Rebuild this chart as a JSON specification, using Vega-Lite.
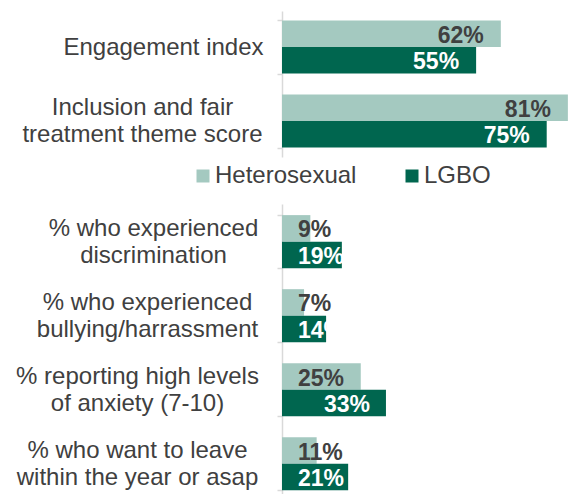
{
  "$schema": "https://vega.github.io/schema/vega-lite/v6.json",
  "padding": {"left": 15, "top": -1, "right": 0, "bottom": 0},
  "spacing": 35,
  "config": {"view": {"stroke": null}, "font": "Liberation Sans"},
  "datasets": {
    "d": [
      {"panel": 1, "measure": "Engagement index", "group": "Heterosexual", "value": 0.62},
      {"panel": 1, "measure": "Engagement index", "group": "LGBO", "value": 0.55},
      {"panel": 1, "measure": "Inclusion and fair|treatment theme score", "group": "Heterosexual", "value": 0.81},
      {"panel": 1, "measure": "Inclusion and fair|treatment theme score", "group": "LGBO", "value": 0.75},
      {"panel": 2, "measure": "% who experienced|discrimination", "group": "Heterosexual", "value": 0.09},
      {"panel": 2, "measure": "% who experienced|discrimination", "group": "LGBO", "value": 0.19},
      {"panel": 2, "measure": "% who experienced|bullying/harrassment", "group": "Heterosexual", "value": 0.07},
      {"panel": 2, "measure": "% who experienced|bullying/harrassment", "group": "LGBO", "value": 0.14},
      {"panel": 2, "measure": "% reporting high levels|of anxiety (7-10)", "group": "Heterosexual", "value": 0.25},
      {"panel": 2, "measure": "% reporting high levels|of anxiety (7-10)", "group": "LGBO", "value": 0.33},
      {"panel": 2, "measure": "% who want to leave|within the year or asap", "group": "Heterosexual", "value": 0.11},
      {"panel": 2, "measure": "% who want to leave|within the year or asap", "group": "LGBO", "value": 0.21}
    ]
  },
  "vconcat": [
    {
      "width": 300,
      "height": 146,
      "data": {"name": "d"},
      "transform": [{"filter": "datum.panel == 1"}],
      "encoding": {
        "y": {
          "field": "measure", "type": "nominal", "sort": null,
          "scale": {"paddingInner": 0.283, "paddingOuter": 0.128},
          "axis": {
            "title": null, "labelExpr": "split(datum.label, '|')",
            "labelAlign": "center", "labelBaseline": "middle",
            "labelFontSize": 24, "labelLineHeight": 27, "labelColor": "#404040", "labelLimit": 400,
            "labelPadding": {"condition": {"test": "datum.value == 'Engagement index'", "value": 114}, "value": 135},
            "labelOffset": {"condition": {"test": "datum.value == 'Engagement index'", "value": 0}, "value": -13},
            "domainColor": "#d9d9d9", "domainWidth": 1.5,
            "tickColor": "#d9d9d9", "tickWidth": 1.5, "tickSize": 5, "tickBand": "extent"
          }
        },
        "yOffset": {"field": "group", "type": "nominal", "sort": ["Heterosexual", "LGBO"], "scale": {"paddingInner": 0, "paddingOuter": 0}},
        "x": {"field": "value", "type": "quantitative", "scale": {"domain": [0, 0.85]}, "axis": null}
      },
      "layer": [
        {
          "mark": {"type": "bar"},
          "encoding": {
            "color": {
              "field": "group", "type": "nominal",
              "scale": {"domain": ["Heterosexual", "LGBO"], "range": ["#A4C9C0", "#00664F"]},
              "legend": {
                "title": null, "orient": "none", "legendX": -91, "legendY": 153,
                "direction": "horizontal", "symbolType": "square", "symbolSize": 169,
                "symbolStrokeWidth": 0, "labelFontSize": 24, "labelColor": "#404040",
                "columnPadding": 43, "labelOffset": 0, "labelLimit": 300
              }
            }
          }
        },
        {
          "mark": {"type": "text", "align": "right", "baseline": "middle", "dx": -17, "dy": 2, "fontSize": 23, "fontWeight": "bold"},
          "encoding": {
            "text": {"field": "value", "type": "quantitative", "format": ".0%"},
            "color": {"condition": {"test": "datum.group == 'LGBO'", "value": "#ffffff"}, "value": "#404040"}
          }
        }
      ]
    },
    {
      "width": 304,
      "height": 297,
      "data": {"name": "d"},
      "transform": [{"filter": "datum.panel == 2"}],
      "encoding": {
        "y": {
          "field": "measure", "type": "nominal", "sort": null,
          "scale": {"paddingInner": 0.29, "paddingOuter": 0.15},
          "axis": {
            "title": null, "labelExpr": "split(datum.label, '|')",
            "labelAlign": "center", "labelBaseline": "middle",
            "labelFontSize": 24, "labelLineHeight": 27, "labelColor": "#404040", "labelLimit": 400,
            "labelPadding": {"condition": [
              {"test": "datum.value == '% who experienced|discrimination'", "value": 124},
              {"test": "datum.value == '% who experienced|bullying/harrassment'", "value": 130}
            ], "value": 140},
            "labelOffset": -13,
            "domainColor": "#d9d9d9", "domainWidth": 1.5,
            "tickColor": "#d9d9d9", "tickWidth": 1.5, "tickSize": 5, "tickBand": "extent"
          }
        },
        "yOffset": {"field": "group", "type": "nominal", "sort": ["Heterosexual", "LGBO"], "scale": {"paddingInner": 0, "paddingOuter": 0}},
        "x": {"field": "value", "type": "quantitative", "scale": {"domain": [0, 0.965]}, "axis": null}
      },
      "layer": [
        {
          "mark": {"type": "bar"},
          "encoding": {
            "color": {
              "field": "group", "type": "nominal",
              "scale": {"domain": ["Heterosexual", "LGBO"], "range": ["#A4C9C0", "#00664F"]},
              "legend": null
            }
          }
        },
        {
          "transform": [{"filter": "datum.value < 0.3"}],
          "mark": {"type": "text", "align": "left", "baseline": "middle", "dx": 16, "dy": 2, "fontSize": 23, "fontWeight": "bold"},
          "encoding": {
            "x": {"datum": 0},
            "text": {"field": "value", "type": "quantitative", "format": ".0%"},
            "color": {"condition": {"test": "datum.group == 'LGBO'", "value": "#ffffff"}, "value": "#404040"}
          }
        },
        {
          "transform": [{"filter": "datum.value >= 0.3"}],
          "mark": {"type": "text", "align": "right", "baseline": "middle", "dx": -16, "dy": 2, "fontSize": 23, "fontWeight": "bold"},
          "encoding": {
            "text": {"field": "value", "type": "quantitative", "format": ".0%"},
            "color": {"condition": {"test": "datum.group == 'LGBO'", "value": "#ffffff"}, "value": "#404040"}
          }
        }
      ]
    }
  ]
}
